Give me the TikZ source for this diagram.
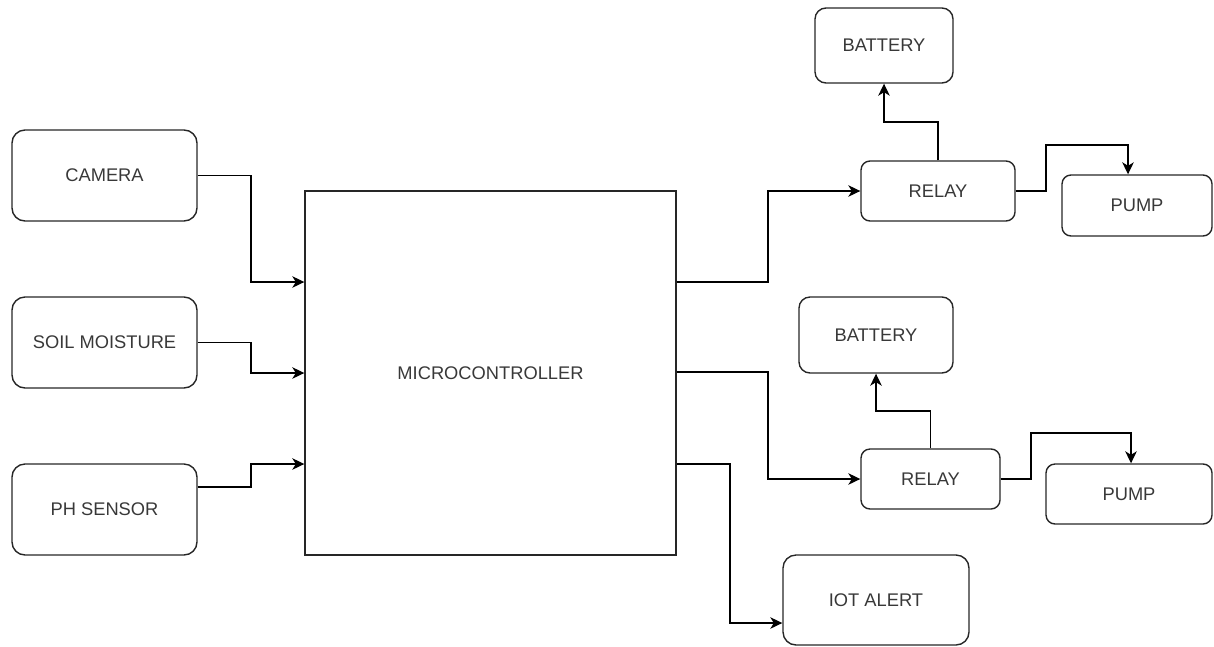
\documentclass[tikz,border=0pt]{standalone}
\usepackage{fontspec}
\setmainfont{Liberation Sans}
\usetikzlibrary{arrows.meta}
\begin{document}
\begin{tikzpicture}[x=1pt,y=-1pt,
  box/.style={draw=black!85,line width=1.4pt,rounded corners=#1,inner sep=0pt,
    text=black!78,font=\fontsize{18.3}{22}\selectfont},
  box/.default=12pt,
  mcubox/.style={draw=black!85,line width=1.4pt,inner sep=0pt,
    text=black!78,font=\fontsize{18.3}{22}\selectfont},
  arr/.style={draw=black,line width=1.4pt,-{Stealth[length=12pt,width=11.5pt,inset=3.5pt]}}
]
\useasboundingbox (0,0) rectangle (1214,646);
% nodes
\node[box=13pt,minimum width=185pt,minimum height=91pt] (cam) at (104.5,175.5) {CAMERA};
\node[box=13pt,minimum width=185pt,minimum height=91pt] (soil) at (104.5,342.5) {SOIL MOISTURE};
\node[box=13pt,minimum width=185pt,minimum height=91pt] (ph) at (104.5,509.5) {PH SENSOR};
\node[mcubox,minimum width=371pt,minimum height=364pt] (mcu) at (490.5,373) {MICROCONTROLLER};
\node[box=11pt,minimum width=138pt,minimum height=75pt] (bat1) at (884,45.5) {BATTERY};
\node[box=9pt,minimum width=154pt,minimum height=60pt] (relay1) at (938,191) {RELAY};
\node[box=9pt,minimum width=150pt,minimum height=61pt] (pump1) at (1137,205.5) {PUMP};
\node[box=11pt,minimum width=154pt,minimum height=76pt] (bat2) at (876,335) {BATTERY};
\node[box=9pt,minimum width=139pt,minimum height=60pt] (relay2) at (930.5,479) {RELAY};
\node[box=9pt,minimum width=166pt,minimum height=60pt] (pump2) at (1129,494) {PUMP};
\node[box=13pt,minimum width=186pt,minimum height=90pt] (iot) at (876,600) {IOT ALERT};
% inputs
\draw[arr] (cam.east) -| (251,282) -- (mcu.west |- 0,282);
\draw[arr] (soil.east) -| (251,373) -- (mcu.west |- 0,373);
\draw[arr] (ph.east |- 0,487) -| (251,464) -- (mcu.west |- 0,464);
% outputs
\draw[arr] (mcu.east |- 0,282) -| (768,191) -- (relay1.west);
\draw[arr] (mcu.east |- 0,372) -| (768,479) -- (relay2.west);
\draw[arr] (mcu.east |- 0,464) -| (730,623) -- (iot.west |- 0,623);
% relay 1
\draw[arr] (relay1.north) |- (884,122) -- (bat1.south);
\draw[arr] (relay1.east) -| (1046,145) -| (1128,0 |- pump1.north);
% relay 2
\draw[arr] (relay2.north) |- (876,411) -- (bat2.south);
\draw[arr] (relay2.east) -| (1031,433) -| (1131,0 |- pump2.north);
\end{tikzpicture}
\end{document}
